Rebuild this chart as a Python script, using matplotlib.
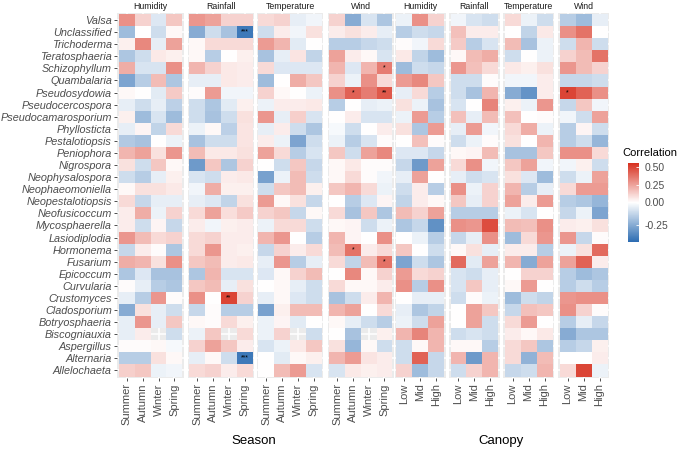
import numpy as np
import matplotlib
matplotlib.use("Agg")
import matplotlib.pyplot as plt
from matplotlib.colors import LinearSegmentedColormap, TwoSlopeNorm

plt.rcParams['font.family'] = ['Liberation Sans', 'DejaVu Sans']

genera = ["Valsa", "Unclassified", "Trichoderma", "Teratosphaeria", "Schizophyllum",
          "Quambalaria", "Pseudosydowia", "Pseudocercospora", "Pseudocamarosporium",
          "Phyllosticta", "Pestalotiopsis", "Peniophora", "Nigrospora", "Neophysalospora",
          "Neophaeomoniella", "Neopestalotiopsis", "Neofusicoccum", "Mycosphaerella",
          "Lasiodiplodia", "Hormonema", "Fusarium", "Epicoccum", "Curvularia",
          "Crustomyces", "Cladosporium", "Botryosphaeria", "Biscogniauxia",
          "Aspergillus", "Alternaria", "Allelochaeta"]
season_levels = ["Summer", "Autumn", "Winter", "Spring"]
canopy_levels = ["Low", "Mid", "High"]

nan = np.nan
# rows follow genera, columns follow season_levels
season_humidity = [
    [0.30, 0.12, -0.07, 0.15], [-0.20, 0.00, -0.10, 0.02], [0.04, 0.32, -0.05, 0.25],
    [-0.17, -0.10, 0.06, 0.04], [0.22, -0.08, -0.08, 0.30], [-0.27, -0.15, 0.18, -0.17],
    [0.02, 0.00, -0.06, 0.14], [-0.05, -0.10, -0.05, -0.14], [0.04, -0.20, -0.08, -0.20],
    [-0.05, 0.03, -0.13, 0.10], [-0.16, -0.18, 0.00, -0.04], [0.20, 0.25, 0.08, 0.28],
    [0.08, -0.10, 0.15, 0.02], [-0.10, -0.15, -0.05, 0.04], [0.02, 0.08, 0.08, 0.06],
    [0.10, -0.12, -0.05, -0.05], [0.05, 0.22, -0.04, 0.12], [0.05, -0.10, 0.03, -0.12],
    [0.28, 0.18, 0.10, 0.12], [-0.12, 0.05, 0.01, -0.17], [0.22, 0.20, 0.08, 0.30],
    [-0.17, -0.07, -0.18, -0.18], [0.01, -0.05, -0.15, -0.17], [-0.05, -0.15, 0.28, 0.01],
    [-0.25, 0.08, -0.05, -0.10], [-0.05, 0.28, -0.05, 0.15], [-0.05, 0.05, nan, -0.10],
    [0.01, 0.01, 0.02, -0.02], [-0.15, -0.15, 0.08, 0.02], [0.13, 0.15, -0.04, -0.03]]
season_rainfall = [
    [0.28, 0.25, 0.12, 0.12], [-0.25, -0.10, -0.18, -0.40], [0.02, 0.10, 0.10, 0.10],
    [0.02, -0.15, 0.00, 0.04], [0.20, 0.12, 0.06, 0.05], [-0.05, -0.05, 0.06, 0.05],
    [0.01, 0.27, -0.03, -0.03], [-0.10, -0.17, -0.06, 0.04], [-0.10, -0.18, -0.10, 0.08],
    [-0.04, 0.02, -0.14, 0.07], [-0.18, -0.10, -0.10, 0.07], [0.18, 0.06, 0.06, 0.08],
    [-0.30, 0.15, -0.17, 0.12], [-0.08, -0.10, 0.05, 0.06], [-0.03, 0.22, 0.04, 0.04],
    [-0.05, -0.07, -0.13, 0.08], [0.10, 0.25, 0.09, 0.14], [0.05, -0.03, 0.04, 0.05],
    [0.10, 0.12, 0.05, 0.05], [0.10, 0.28, 0.05, 0.04], [0.15, 0.18, 0.05, 0.06],
    [-0.17, 0.20, -0.08, -0.08], [0.15, 0.18, -0.05, 0.08], [0.30, 0.00, 0.50, 0.12],
    [-0.12, 0.01, -0.15, -0.15], [0.02, 0.01, 0.10, 0.04], [-0.04, 0.15, nan, 0.10],
    [0.12, 0.25, 0.15, 0.05], [-0.05, 0.02, -0.10, -0.40], [0.10, 0.12, 0.05, 0.10]]
season_temperature = [
    [0.10, 0.12, -0.05, -0.03], [-0.10, 0.05, -0.03, 0.08], [0.27, 0.20, -0.06, 0.00],
    [-0.18, -0.05, 0.07, -0.13], [0.10, -0.07, -0.07, -0.07], [-0.20, 0.00, 0.22, 0.15],
    [0.12, 0.02, 0.00, -0.04], [-0.04, 0.05, 0.05, 0.06], [0.28, -0.05, 0.13, -0.08],
    [-0.05, 0.05, -0.10, -0.17], [0.05, -0.04, -0.27, -0.10], [0.25, 0.10, -0.15, -0.08],
    [0.00, -0.10, 0.15, -0.12], [-0.28, -0.04, 0.18, -0.10], [-0.10, 0.15, 0.18, 0.04],
    [0.27, 0.02, 0.08, -0.12], [0.12, 0.15, -0.12, 0.02], [-0.04, 0.10, 0.10, -0.10],
    [0.20, 0.28, 0.00, -0.15], [-0.12, 0.12, 0.05, 0.10], [-0.05, 0.28, -0.15, -0.05],
    [-0.07, 0.02, 0.12, 0.18], [0.00, 0.02, -0.05, -0.10], [-0.05, 0.02, -0.07, -0.10],
    [-0.28, 0.04, 0.18, 0.18], [-0.04, 0.03, -0.06, 0.00], [-0.04, 0.12, nan, -0.10],
    [-0.08, -0.04, 0.06, 0.15], [0.00, -0.06, 0.02, 0.04], [0.00, 0.18, 0.27, -0.08]]
season_wind = [
    [0.12, -0.25, -0.08, -0.17], [0.05, 0.08, 0.05, -0.05], [-0.15, -0.15, -0.12, -0.10],
    [0.25, 0.05, 0.02, -0.08], [0.20, -0.07, 0.20, 0.35], [0.12, -0.04, 0.30, 0.10],
    [0.30, 0.42, 0.35, 0.45], [-0.15, 0.00, -0.05, -0.04], [0.00, 0.05, -0.08, -0.08],
    [-0.02, -0.10, 0.00, 0.05], [-0.04, -0.15, -0.08, 0.01], [0.15, -0.10, 0.25, 0.32],
    [0.02, 0.06, 0.01, 0.01], [0.02, 0.10, 0.01, -0.03], [0.15, 0.20, 0.10, -0.04],
    [0.00, -0.15, -0.07, 0.03], [0.10, -0.18, 0.15, -0.17], [0.02, 0.03, -0.10, -0.04],
    [0.20, 0.03, 0.00, 0.30], [0.18, 0.38, 0.05, 0.10], [0.10, -0.13, 0.18, 0.38],
    [0.00, 0.32, 0.02, 0.12], [0.10, 0.02, 0.02, 0.05], [-0.18, -0.10, 0.05, 0.20],
    [0.20, 0.25, 0.00, 0.10], [0.02, -0.05, -0.10, -0.15], [0.00, -0.18, nan, 0.04],
    [0.08, -0.22, 0.02, -0.10], [0.20, 0.27, 0.07, 0.05], [-0.08, 0.06, 0.04, 0.05]]

# rows follow genera, columns follow canopy_levels
canopy_humidity = [
    [-0.04, 0.30, 0.12], [-0.15, -0.10, -0.12], [0.01, -0.03, 0.10], [0.06, -0.13, -0.20],
    [-0.20, -0.10, -0.12], [0.27, 0.32, 0.15], [-0.05, 0.10, -0.15], [0.08, -0.04, -0.18],
    [-0.04, 0.27, -0.15], [0.08, -0.17, 0.27], [0.00, 0.17, 0.01], [-0.07, -0.07, -0.12],
    [-0.12, -0.30, 0.25], [-0.05, 0.25, 0.00], [-0.10, 0.05, -0.15], [-0.13, 0.05, 0.02],
    [0.18, 0.12, 0.25], [-0.17, -0.12, -0.33], [0.00, -0.04, -0.15], [0.15, 0.00, -0.10],
    [-0.27, -0.10, -0.17], [0.27, 0.10, 0.12], [0.30, -0.15, 0.30], [0.00, -0.05, -0.05],
    [-0.05, -0.17, -0.13], [-0.04, -0.10, 0.25], [0.20, 0.33, 0.20], [-0.10, 0.02, 0.20],
    [-0.10, 0.42, -0.12], [0.12, -0.20, -0.12]]
canopy_rainfall = [
    [-0.03, -0.08, -0.10], [0.17, 0.05, 0.05], [0.14, -0.15, -0.08], [0.02, 0.18, 0.22],
    [0.28, 0.17, 0.10], [-0.10, -0.10, 0.01], [-0.10, -0.18, 0.20], [-0.08, 0.00, 0.33],
    [0.17, -0.05, 0.18], [-0.05, 0.27, -0.03], [-0.10, -0.04, 0.01], [0.02, 0.03, 0.18],
    [0.10, 0.30, -0.03], [-0.05, -0.10, -0.08], [0.30, -0.04, 0.12], [0.15, -0.05, 0.12],
    [-0.15, -0.15, -0.15], [0.30, 0.28, 0.48], [-0.12, -0.05, 0.30], [0.02, 0.08, -0.05],
    [0.40, -0.06, 0.25], [-0.08, -0.10, -0.05], [-0.08, 0.15, -0.05], [-0.10, 0.01, -0.04],
    [0.00, 0.25, 0.15], [0.00, 0.25, -0.10], [-0.10, -0.08, -0.10], [0.02, 0.02, -0.15],
    [0.20, -0.30, 0.20], [-0.10, 0.12, 0.20]]
canopy_temperature = [
    [0.10, -0.04, -0.10], [0.00, -0.13, 0.06], [0.18, -0.18, -0.04], [-0.10, 0.00, -0.04],
    [0.06, 0.04, 0.08], [-0.03, -0.03, 0.05], [-0.25, -0.32, 0.05], [0.04, -0.04, 0.28],
    [0.17, 0.00, 0.01], [0.10, 0.22, -0.04], [0.08, 0.00, 0.20], [-0.18, -0.18, 0.15],
    [0.15, 0.25, -0.03], [0.08, -0.07, -0.20], [0.20, -0.15, -0.05], [0.25, 0.05, 0.27],
    [-0.04, -0.08, 0.00], [0.18, 0.17, 0.30], [-0.20, 0.10, 0.28], [0.05, 0.05, -0.15],
    [0.20, -0.25, 0.25], [0.00, 0.12, 0.12], [0.02, 0.27, 0.00], [-0.20, -0.10, -0.13],
    [-0.12, 0.17, 0.15], [0.10, 0.27, 0.00], [0.05, 0.02, 0.06], [0.10, 0.15, -0.17],
    [0.10, -0.23, 0.18], [-0.12, -0.10, 0.20]]
canopy_wind = [
    [-0.15, -0.20, -0.05], [0.30, 0.38, 0.00], [-0.10, 0.20, -0.10], [0.12, 0.18, 0.38],
    [0.28, 0.18, 0.12], [-0.12, -0.12, -0.10], [0.50, 0.42, 0.30], [-0.12, 0.15, -0.03],
    [-0.03, -0.10, 0.25], [-0.15, 0.03, -0.10], [-0.15, -0.10, -0.22], [0.30, 0.30, 0.10],
    [-0.03, 0.04, -0.10], [-0.10, -0.04, 0.25], [0.10, 0.27, 0.27], [-0.15, -0.17, -0.22],
    [-0.12, -0.04, -0.27], [0.05, 0.04, 0.08], [0.28, -0.12, 0.01], [-0.04, 0.08, 0.40],
    [0.25, 0.42, 0.05], [-0.15, -0.20, -0.17], [-0.15, -0.10, -0.15], [0.28, 0.30, 0.30],
    [0.30, 0.12, 0.01], [-0.15, -0.05, -0.12], [-0.25, -0.17, -0.17], [-0.15, -0.12, 0.04],
    [0.00, 0.00, 0.05], [0.10, 0.50, -0.04]]

# significance marks: (group, variable, genus, level, mark)
stars = [("Season", "Rainfall", "Unclassified", "Spring", "***"),
         ("Season", "Rainfall", "Alternaria", "Spring", "***"),
         ("Season", "Rainfall", "Crustomyces", "Winter", "**"),
         ("Season", "Wind", "Schizophyllum", "Spring", "*"),
         ("Season", "Wind", "Pseudosydowia", "Autumn", "*"),
         ("Season", "Wind", "Pseudosydowia", "Spring", "**"),
         ("Season", "Wind", "Hormonema", "Autumn", "*"),
         ("Season", "Wind", "Fusarium", "Spring", "*"),
         ("Canopy", "Wind", "Pseudosydowia", "Low", "*")]

W, H = 677, 449
fig = plt.figure(figsize=(W / 100, H / 100), dpi=100)

cmap = LinearSegmentedColormap.from_list("corr", ["#2C6CB2", "#FFFFFF", "#D7301F"])
norm = TwoSlopeNorm(vmin=-0.44, vcenter=0.0, vmax=0.56)

# (group, variable, levels, values, tile left px, tile right px)
panels = [
    ("Season", "Humidity", season_levels, season_humidity, 119.0, 182.3),
    ("Season", "Rainfall", season_levels, season_rainfall, 189.3, 252.7),
    ("Season", "Temperature", season_levels, season_temperature, 258.3, 321.7),
    ("Season", "Wind", season_levels, season_wind, 329.3, 392.3),
    ("Canopy", "Humidity", canopy_levels, canopy_humidity, 396.5, 444.3),
    ("Canopy", "Rainfall", canopy_levels, canopy_rainfall, 450.5, 498.3),
    ("Canopy", "Temperature", canopy_levels, canopy_temperature, 504.5, 552.5),
    ("Canopy", "Wind", canopy_levels, canopy_wind, 559.5, 607.5),
]
top, bottom = 14.0, 376.5
nrow = len(genera)
ch = (bottom - top) / nrow

axes = {}
for i, (grp, var, levels, vals, x0, x1) in enumerate(panels):
    n = len(levels)
    cw = (x1 - x0) / n
    left, right = x0 - 0.1 * cw, x1 + 0.1 * cw
    a_top, a_bot = top - 0.1 * ch, bottom + 0.1 * ch
    ax = fig.add_axes([left / W, 1 - a_bot / H, (right - left) / W, (a_bot - a_top) / H])
    data = np.ma.masked_invalid(np.array(vals, dtype=float))
    ax.pcolormesh(np.arange(n + 1) - 0.5, np.arange(nrow + 1) - 0.5, data,
                  cmap=cmap, norm=norm)
    ax.set_xlim(-0.6, n - 0.4)
    ax.set_ylim(nrow - 0.4, -0.6)
    ax.set_facecolor('#EBEBEB')
    ax.set_axisbelow(True)
    ax.grid(True, color='white', lw=1.1)
    for s in ax.spines.values():
        s.set_visible(False)
    ax.set_xticks(range(n))
    ax.set_xticklabels(levels, rotation=90, fontsize=8, color='#4D4D4D')
    ax.set_yticks(range(nrow))
    ax.tick_params(axis='x', length=2.5, width=0.6, color='#333333', pad=1.5)
    if i == 0:
        ax.set_yticklabels(genera, style='italic', fontsize=7.8, color='#4D4D4D')
        ax.tick_params(axis='y', length=2.5, width=0.6, color='#333333', pad=1.5)
    else:
        ax.tick_params(axis='y', left=False, labelleft=False)
    ax.set_title(var, fontsize=6.3, color='#1A1A1A', pad=3)
    axes[(grp, var)] = (ax, levels)

for grp, var, genus, level, mark in stars:
    ax, levels = axes[(grp, var)]
    ax.text(levels.index(level), genera.index(genus), mark, ha='center', va='center',
            fontsize=5, color='black')

fig.text(254 / W, 1 - 441 / H, "Season", ha='center', va='center', fontsize=9.5)
fig.text(501 / W, 1 - 441 / H, "Canopy", ha='center', va='center', fontsize=9.5)

# colour bar legend
cax = fig.add_axes([628 / W, 1 - 242 / H, 11 / W, 79 / H])
sm = plt.cm.ScalarMappable(cmap=cmap, norm=norm)
cb = fig.colorbar(sm, cax=cax, ticks=[-0.25, 0.0, 0.25, 0.5])
cb.ax.set_yticklabels(["-0.25", "0.00", "0.25", "0.50"], fontsize=7.5, color='#4D4D4D')
cb.ax.tick_params(length=2.5, color='white', direction='in', width=0.6, pad=4)
cb.outline.set_visible(False)
fig.text(622 / W, 1 - 153 / H, "Correlation", ha='left', va='center', fontsize=8)

fig.savefig("out.png", dpi=100)
